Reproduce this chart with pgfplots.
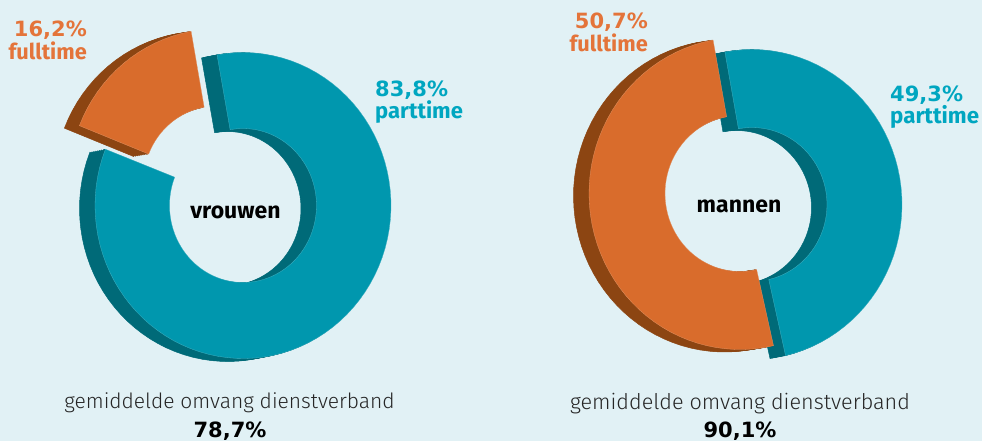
\documentclass[border=0pt]{standalone}
\usepackage{pgfplots}
\pgfplotsset{compat=1.18}
\usepackage{fontspec}
\setmainfont{Fira Sans}
\newfontfamily\lightf{Fira Sans Light}
\newfontfamily\numf{DejaVu Sans}
\definecolor{bg}{HTML}{E1F1F5}
\definecolor{tealf}{HTML}{0097AE}
\definecolor{teald}{HTML}{006A78}
\definecolor{orf}{HTML}{D96C2C}
\definecolor{ord}{HTML}{8C4512}
\definecolor{tealt}{HTML}{00A6C0}
\definecolor{ort}{HTML}{E4743A}
% outline of one ring segment: #1 cx, #2 cy, #3 Rx, #4 Ry, #5 rx, #6 ry, #7 first angle, #8 share in %
\newcommand\mkseg[8]{%
  \gdef\segpts{}%
  \pgfmathsetmacro\tspan{-3.6*#8}%
  \pgfmathtruncatemacro\nseg{max(6,#8)}%
  \foreach \i in {0,...,\nseg}{%
    \pgfmathsetmacro\aa{#7+\tspan*(\i/\nseg)}%
    \pgfmathsetmacro\px{#1+#3*cos(\aa)}%
    \pgfmathsetmacro\py{#2-#4*sin(\aa)}%
    \xdef\segpts{\segpts (\px,\py)}}%
  \foreach \i in {\nseg,...,0}{%
    \pgfmathsetmacro\aa{#7+\tspan*(\i/\nseg)}%
    \pgfmathsetmacro\px{#1+#5*cos(\aa)}%
    \pgfmathsetmacro\py{#2-#6*sin(\aa)}%
    \xdef\segpts{\segpts (\px,\py)}}%
}
% #1..#8 as above; #9 face colour; \wallc wall colour; \ox,\oy extrusion
\newcommand\solidseg[9]{%
  \foreach \k in {16,14,...,2,1}{%
    \pgfmathsetmacro\qx{#1+\ox*\k/16}%
    \pgfmathsetmacro\qy{#2+\oy*\k/16}%
    \mkseg{\qx}{\qy}{#3}{#4}{#5}{#6}{#7}{#8}%
    \edef\tmp{\noexpand\addplot[fill=\wallc,draw=\wallc,line width=0.5pt,forget plot] coordinates {\segpts} -- cycle;}%
    \tmp}%
  \mkseg{#1}{#2}{#3}{#4}{#5}{#6}{#7}{#8}%
  \edef\tmp{\noexpand\addplot[fill=#9,draw=#9!75!white,line width=0.3pt,forget plot] coordinates {\segpts} -- cycle;}%
  \tmp
}
\begin{document}
\begin{tikzpicture}
\begin{axis}[hide axis,scale only axis,width=982pt,height=441pt,
  xmin=0,xmax=982,ymin=0,ymax=441,y dir=reverse,clip=true]
\addplot[fill=bg,draw=none,forget plot] coordinates {(0,0) (982,0) (982,441) (0,441)} -- cycle;
% vrouwen
\def\wallc{teald}\def\ox{-15.5}\def\oy{3}
\solidseg{243}{205.5}{148}{153}{73.5}{77}{100.1}{83.8}{tealf}
\def\wallc{ord}\def\ox{-15}\def\oy{2.5}
\solidseg{217}{182}{148}{153}{73.5}{76}{158.4}{16.2}{orf}
% mannen
\def\wallc{teald}\def\ox{-15.5}\def\oy{3}
\solidseg{752}{204.5}{150}{155}{75}{77}{100.4}{49.3}{tealf}
\def\wallc{ord}\def\ox{-15.5}\def\oy{2.5}
\solidseg{740}{193.5}{151}{156}{75}{78}{282.8}{50.7}{orf}
\newcommand\lbl[6][21]{\node[anchor=#4,inner sep=0pt,text=#5,font=\bfseries\fontsize{#1}{#1}\selectfont] at (axis cs:#2,#3) {#6};}
\newcommand\pct[5]{\node[anchor=#3,inner sep=0pt,text=#4,font=\numf\bfseries\fontsize{21}{21}\selectfont] at (axis cs:#1,#2) {#5};}
\pct{87}{37}{base east}{ort}{16,2\%}
\lbl[21.8]{87}{60}{base east}{ort}{fulltime}
\pct{648}{29}{base east}{ort}{50,7\%}
\lbl[21.8]{648}{52}{base east}{ort}{fulltime}
\pct{375}{96.5}{base west}{tealt}{83,8\%}
\lbl[22]{375}{118.5}{base west}{tealt}{parttime}
\pct{890}{102}{base west}{tealt}{49,3\%}
\lbl[22.3]{890}{124}{base west}{tealt}{parttime}
\lbl[23]{235.5}{218}{base}{black}{vrouwen}
\lbl[23]{739}{212}{base}{black}{mannen}
\node[anchor=base,inner sep=0pt,font=\lightf\fontsize{21}{21}\selectfont,text=black!85] at (axis cs:229.5,408) {gemiddelde omvang dienstverband};
\node[anchor=base,inner sep=0pt,font=\lightf\fontsize{21.6}{21.6}\selectfont,text=black!85] at (axis cs:740,409) {gemiddelde omvang dienstverband};
\pct{230}{437}{base}{black}{78,7\%}
\pct{740}{437.5}{base}{black}{90,1\%}
\end{axis}
\end{tikzpicture}
\end{document}
